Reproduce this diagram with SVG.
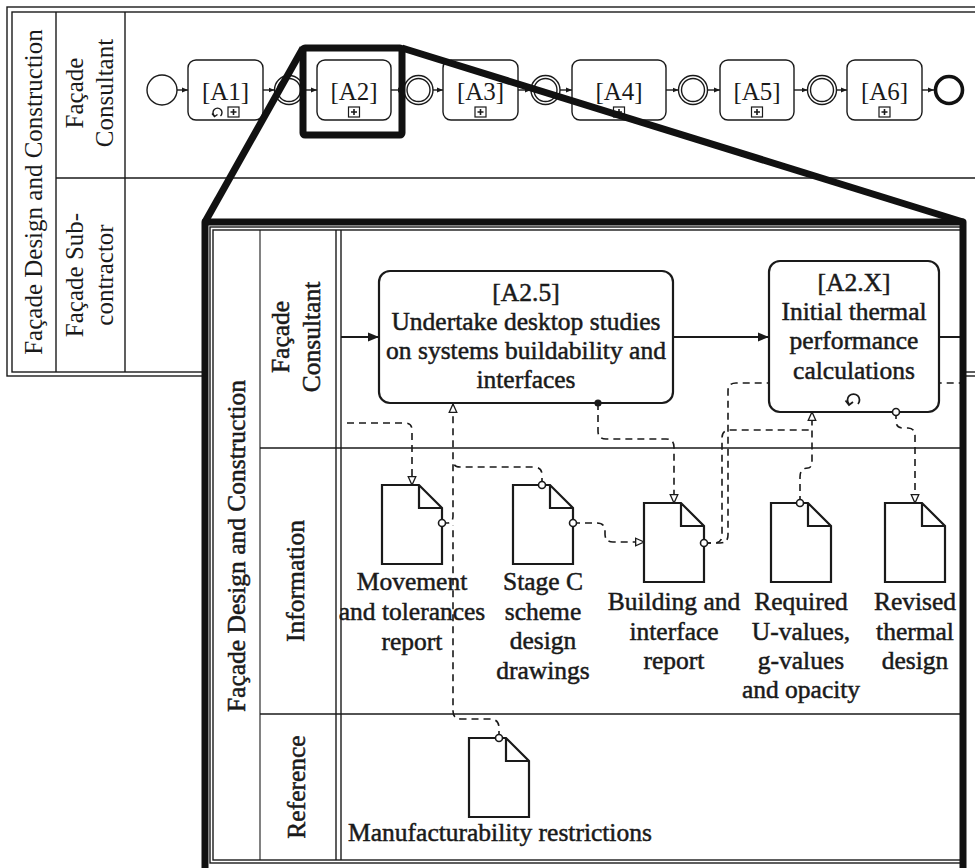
<svg xmlns="http://www.w3.org/2000/svg" width="975" height="868" viewBox="0 0 975 868" font-family="'Liberation Serif', Tinos, 'Times New Roman', Times, serif">
<defs>
<style>
.ln{fill:none;stroke:#1a1a1a;stroke-width:1.4}
.thin{fill:none;stroke:#1a1a1a;stroke-width:1.1}
.box{fill:#fff;stroke:#1a1a1a;stroke-width:1.4}
.ibox{fill:#fff;stroke:#1a1a1a;stroke-width:2.2}
.thick{fill:none;stroke:#111;stroke-width:7;stroke-linejoin:round}
.seq{fill:none;stroke:#1a1a1a;stroke-width:1.4}
.iseq{fill:none;stroke:#1a1a1a;stroke-width:2}
.dash{fill:none;stroke:#1a1a1a;stroke-width:1.6;stroke-dasharray:7 5}
.t{font-size:25px;fill:#1a1a1a;text-anchor:middle}
.ti{font-size:25.5px;fill:#1a1a1a;stroke:#1a1a1a;stroke-width:0.5;text-anchor:middle}
.doc{fill:#fff;stroke:#1a1a1a;stroke-width:2.2;stroke-linejoin:miter}
.org{fill:#fff;stroke:#1a1a1a;stroke-width:1.6}
.orgf{fill:#1a1a1a;stroke:#1a1a1a;stroke-width:1.2}
</style>
<marker id="sf" viewBox="0 0 10 10" refX="10" refY="5" markerWidth="6" markerHeight="6" markerUnits="userSpaceOnUse" orient="auto"><path d="M0,1 L10,5 L0,9 z" fill="#1a1a1a"/></marker>
<marker id="sf2" viewBox="0 0 10 10" refX="10" refY="5" markerWidth="11" markerHeight="11" markerUnits="userSpaceOnUse" orient="auto"><path d="M0,1 L10,5 L0,9 z" fill="#1a1a1a"/></marker>
<marker id="da" viewBox="0 0 12 12" refX="11" refY="6" markerWidth="10" markerHeight="10" markerUnits="userSpaceOnUse" orient="auto"><path d="M1,1.5 L11,6 L1,10.5 z" fill="#fff" stroke="#1a1a1a" stroke-width="1.6"/></marker>
<path id="docshape" d="M0,0 H37 L60,23 V79 H0 Z M37,0 V23 H60"/>
</defs>

<rect width="975" height="868" fill="#fff"/>

<!-- Top pool -->
<g id="top-pool">
<rect class="ln" x="7" y="7" width="1010" height="369"/>
<rect class="ln" x="12" y="12" width="1005" height="360"/>
<line class="ln" x1="56" y1="12" x2="56" y2="372"/>
<line class="ln" x1="125" y1="12" x2="125" y2="372"/>
<line class="ln" x1="56" y1="178" x2="975" y2="178"/>
<text class="t" transform="translate(42,192) rotate(-90)">Façade Design and Construction</text>
<text class="t" transform="translate(83,93) rotate(-90)">Façade</text>
<text class="t" transform="translate(113,93) rotate(-90)">Consultant</text>
<text class="t" transform="translate(83,275) rotate(-90)">Façade Sub-</text>
<text class="t" transform="translate(113,275) rotate(-90)">contractor</text>
</g>

<g id="top-connectors">
<line class="seq" x1="177" y1="90" x2="188" y2="90" marker-end="url(#sf)"/>
<line class="seq" x1="263" y1="90" x2="274.5" y2="90" marker-end="url(#sf)"/>
<line class="seq" x1="303.5" y1="90" x2="317" y2="90" marker-end="url(#sf)"/>
<line class="seq" x1="391" y1="90" x2="404" y2="90" marker-end="url(#sf)"/>
<line class="seq" x1="433" y1="90" x2="443" y2="90" marker-end="url(#sf)"/>
<line class="seq" x1="518" y1="90" x2="531" y2="90" marker-end="url(#sf)"/>
<line class="seq" x1="560" y1="90" x2="572" y2="90" marker-end="url(#sf)"/>
<line class="seq" x1="666" y1="90" x2="678.5" y2="90" marker-end="url(#sf)"/>
<line class="seq" x1="707.5" y1="90" x2="720" y2="90" marker-end="url(#sf)"/>
<line class="seq" x1="794" y1="90" x2="807.5" y2="90" marker-end="url(#sf)"/>
<line class="seq" x1="836.5" y1="90" x2="847" y2="90" marker-end="url(#sf)"/>
<line class="seq" x1="922" y1="90" x2="934" y2="90" marker-end="url(#sf)"/>
</g>

<g id="start"><circle cx="162" cy="90" r="15" class="box"/></g>
<g id="A1">
<rect class="box" x="188" y="60" width="75" height="60" rx="8"/>
<text class="t" x="225.5" y="100">[A1]</text>
<path d="M214.5,116 A4.5,4.5 0 1 1 220.5,116" class="seq"/>
<path d="M212,113.5 L214.5,116.5 L217.5,114.5" class="seq"/>
<rect x="228" y="107" width="11" height="10" fill="#fff" stroke="#1a1a1a" stroke-width="1.2"/>
<path d="M233.5,109 V115 M230.5,112 H236.5" stroke="#1a1a1a" stroke-width="1.6"/>
</g>
<g id="E1"><circle cx="289" cy="90" r="14.5" class="box"/><circle cx="289" cy="90" r="11.5" class="ln"/></g>
<g id="A2">
<rect class="box" x="317" y="60" width="74" height="60" rx="8"/>
<text class="t" x="354" y="100">[A2]</text>
<rect x="348.5" y="107" width="11" height="10" fill="#fff" stroke="#1a1a1a" stroke-width="1.2"/>
<path d="M354,109 V115 M351,112 H357" stroke="#1a1a1a" stroke-width="1.6"/>
</g>
<g id="E2"><circle cx="418.5" cy="90" r="14.5" class="box"/><circle cx="418.5" cy="90" r="11.5" class="ln"/></g>
<g id="A3">
<rect class="box" x="443" y="60" width="75" height="60" rx="8"/>
<text class="t" x="480.5" y="100">[A3]</text>
<rect x="475" y="107" width="11" height="10" fill="#fff" stroke="#1a1a1a" stroke-width="1.2"/>
<path d="M480.5,109 V115 M477.5,112 H483.5" stroke="#1a1a1a" stroke-width="1.6"/>
</g>
<g id="E3"><circle cx="545.5" cy="90" r="14.5" class="box"/><circle cx="545.5" cy="90" r="11.5" class="ln"/></g>
<g id="A4">
<rect class="box" x="572" y="60" width="94" height="60" rx="8"/>
<text class="t" x="619" y="100">[A4]</text>
<rect x="613.5" y="107" width="11" height="10" fill="#fff" stroke="#1a1a1a" stroke-width="1.2"/>
<path d="M619,109 V115 M616,112 H622" stroke="#1a1a1a" stroke-width="1.6"/>
</g>
<g id="E4"><circle cx="693" cy="90" r="14.5" class="box"/><circle cx="693" cy="90" r="11.5" class="ln"/></g>
<g id="A5">
<rect class="box" x="720" y="60" width="74" height="60" rx="8"/>
<text class="t" x="757" y="100">[A5]</text>
<rect x="751.5" y="107" width="11" height="10" fill="#fff" stroke="#1a1a1a" stroke-width="1.2"/>
<path d="M757,109 V115 M754,112 H760" stroke="#1a1a1a" stroke-width="1.6"/>
</g>
<g id="E5"><circle cx="822" cy="90" r="14.5" class="box"/><circle cx="822" cy="90" r="11.5" class="ln"/></g>
<g id="A6">
<rect class="box" x="847" y="60" width="75" height="60" rx="8"/>
<text class="t" x="884.5" y="100">[A6]</text>
<rect x="879" y="107" width="11" height="10" fill="#fff" stroke="#1a1a1a" stroke-width="1.2"/>
<path d="M884.5,109 V115 M881.5,112 H887.5" stroke="#1a1a1a" stroke-width="1.6"/>
</g>
<g id="end"><circle cx="949" cy="90" r="13.5" fill="#fff" stroke="#111" stroke-width="3.6"/></g>

<!-- Expanded sub-process view -->
<rect x="205" y="222" width="758" height="660" fill="#fff"/>
<g id="inner-pool">
<rect class="ln" x="210" y="227" width="753" height="636"/>
<rect class="ln" x="213" y="230" width="750" height="630"/>
<line class="thin" x1="260" y1="230" x2="260" y2="860"/>
<line class="ln" x1="336" y1="230" x2="336" y2="860"/>
<line class="ln" x1="341" y1="230" x2="341" y2="860"/>
<line class="ln" x1="260" y1="448" x2="963" y2="448"/>
<line class="ln" x1="260" y1="714" x2="963" y2="714"/>
<text class="ti" transform="translate(245,546) rotate(-90)">Façade Design and Construction</text>
<text class="ti" transform="translate(289,337) rotate(-90)">Façade</text>
<text class="ti" transform="translate(320,337) rotate(-90)">Consultant</text>
<text class="ti" transform="translate(304,581) rotate(-90)">Information</text>
<text class="ti" transform="translate(305,787) rotate(-90)">Reference</text>
</g>

<g id="inner-connectors">
<line class="iseq" x1="341" y1="337" x2="379" y2="337" marker-end="url(#sf2)"/>
<line class="iseq" x1="673" y1="337" x2="769" y2="337" marker-end="url(#sf2)"/>
<line class="iseq" x1="939" y1="337" x2="963" y2="337"/>
<path class="dash" d="M347,423 H405 Q412,423 412,430 V485" marker-end="url(#da)"/>
<path class="dash" d="M442,523 H447 Q453,523 453,516 V404" marker-end="url(#da)"/>
<path class="dash" d="M499,738 V728 Q499,719 490,719 H461 Q453,719 453,711 V525"/>
<path class="dash" d="M542,485 V475 Q542,467 534,467 H460 Q453,467 453,460"/>
<path class="dash" d="M573,523 H597 Q605,523 605,531 V534 Q605,542 613,542 H644" marker-end="url(#da)"/>
<path class="dash" d="M598,403 V431 Q598,439 606,439 H666 Q674,439 674,447 V503" marker-end="url(#da)"/>
<path class="dash" d="M704,543 H714 Q722,543 722,535 V438 Q722,430 730,430 H812"/>
<path class="dash" d="M800,503 V477 Q800,468 808,468 Q812,468 812,460 V412" marker-end="url(#da)"/>
<path class="dash" d="M704,543 H720 Q728,543 728,535 V391 Q728,383 736,383 H963"/>
<path class="dash" d="M896,412 V421 Q896,428 903,428 H908 Q915,428 915,436 V503" marker-end="url(#da)"/>
</g>

<g id="A2-5">
<rect class="ibox" x="379" y="271" width="294" height="132" rx="11"/>
<text class="ti" x="526" y="301">[A2.5]</text>
<text class="ti" x="526" y="330">Undertake desktop studies</text>
<text class="ti" x="526" y="359">on systems buildability and</text>
<text class="ti" x="526" y="388">interfaces</text>
</g>
<g id="A2-X">
<rect class="ibox" x="769" y="261" width="170" height="151" rx="11"/>
<text class="ti" x="854" y="291">[A2.X]</text>
<text class="ti" x="854" y="320">Initial thermal</text>
<text class="ti" x="854" y="349">performance</text>
<text class="ti" x="854" y="379">calculations</text>
<path d="M849,404 A6,6 0 1 1 858,404" fill="none" stroke="#1a1a1a" stroke-width="1.8"/>
<path d="M845.5,400.5 L849,405 L853,402" fill="none" stroke="#1a1a1a" stroke-width="1.8"/>
</g>

<g id="doc-movement">
<use href="#docshape" class="doc" transform="translate(382,485)"/>
<text class="ti" x="412" y="590">Movement</text>
<text class="ti" x="412" y="620">and tolerances</text>
<text class="ti" x="412" y="650">report</text>
</g>
<g id="doc-stagec">
<use href="#docshape" class="doc" transform="translate(513,485)"/>
<text class="ti" x="543" y="590">Stage C</text>
<text class="ti" x="543" y="620">scheme</text>
<text class="ti" x="543" y="649">design</text>
<text class="ti" x="543" y="679">drawings</text>
</g>
<g id="doc-building">
<use href="#docshape" class="doc" transform="translate(644,503)"/>
<text class="ti" x="674" y="610">Building and</text>
<text class="ti" x="674" y="640">interface</text>
<text class="ti" x="674" y="669">report</text>
</g>
<g id="doc-required">
<use href="#docshape" class="doc" transform="translate(771,503)"/>
<text class="ti" x="801" y="610">Required</text>
<text class="ti" x="801" y="640">U-values,</text>
<text class="ti" x="801" y="669">g-values</text>
<text class="ti" x="801" y="698">and opacity</text>
</g>
<g id="doc-revised">
<use href="#docshape" class="doc" transform="translate(885,503)"/>
<text class="ti" x="915" y="610">Revised</text>
<text class="ti" x="915" y="640">thermal</text>
<text class="ti" x="915" y="669">design</text>
</g>
<g id="doc-manufacturability">
<use href="#docshape" class="doc" transform="translate(469,738)"/>
<text class="ti" x="500" y="841">Manufacturability restrictions</text>
</g>

<g id="association-origins">
<circle class="org" cx="442" cy="523" r="3.5"/>
<circle class="org" cx="542" cy="485" r="3.5"/>
<circle class="org" cx="573" cy="523" r="3.5"/>
<circle class="org" cx="704" cy="543" r="3.5"/>
<circle class="org" cx="800" cy="503" r="3.5"/>
<circle class="org" cx="896" cy="412" r="3.5"/>
<circle class="org" cx="499" cy="738" r="3.5"/>
<circle class="orgf" cx="598" cy="403" r="3"/>
</g>

<g id="magnifier">
<rect class="thick" x="303" y="48" width="99" height="87" rx="2"/>
<path class="thick" d="M303,48 L205,222"/>
<path class="thick" d="M402,48 L963,222"/>
<path class="thick" d="M205,875 V222 H963 V875"/>
</g>
</svg>
